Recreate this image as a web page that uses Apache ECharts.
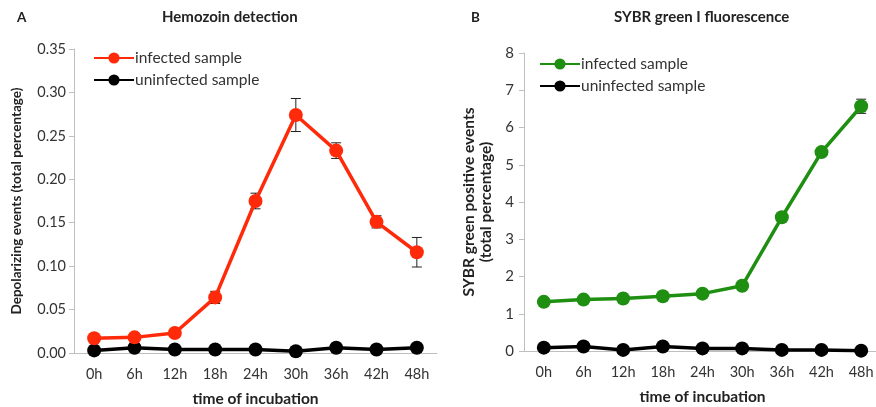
<!DOCTYPE html>
<html>
<head>
<meta charset="utf-8">
<script src="https://cdn.jsdelivr.net/npm/echarts@6/dist/echarts.min.js"></script>
<style>
  html, body { margin: 0; padding: 0; background: #fff; }
  #chart { width: 876px; height: 407px; }
</style>
</head>
<body>
<div id="chart"></div>
<script>
// categories: time points
var hours = ['0h', '6h', '12h', '18h', '24h', '30h', '36h', '42h', '48h'];

// panel A - hemozoin detection
var hemoInfected = [0.017, 0.018, 0.023, 0.064, 0.175, 0.274, 0.233, 0.151, 0.116];
var hemoInfectedErr = [0.002, 0.002, 0.002, 0.007, 0.009, 0.019, 0.009, 0.007, 0.017];
var hemoUninfected = [0.003, 0.006, 0.004, 0.004, 0.004, 0.002, 0.006, 0.004, 0.006];

// panel B - SYBR green I
var sybrInfected = [1.32, 1.38, 1.41, 1.47, 1.54, 1.75, 3.59, 5.34, 6.57];
var sybrInfectedErr = [0.03, 0.03, 0.03, 0.03, 0.03, 0.04, 0.06, 0.08, 0.19];
var sybrUninfected = [0.09, 0.12, 0.03, 0.12, 0.07, 0.07, 0.03, 0.03, 0.01];

var font = 'Lato';
var axisGray = '#bfbfbf';

// error bars drawn with the axes' own coordinate system
function errorSeries(idx, values, errs) {
  return {
    type: 'custom',
    xAxisIndex: idx,
    yAxisIndex: idx,
    z: 1,
    data: values.map(function (v, i) { return [i, v - errs[i], v + errs[i]]; }),
    renderItem: function (params, api) {
      var lo = api.coord([api.value(0), api.value(1)]);
      var hi = api.coord([api.value(0), api.value(2)]);
      var w = 5;
      var st = { stroke: '#222', lineWidth: 1 };
      return {
        type: 'group',
        children: [
          { type: 'line', shape: { x1: lo[0], y1: lo[1], x2: hi[0], y2: hi[1] }, style: st },
          { type: 'line', shape: { x1: lo[0] - w, y1: lo[1], x2: lo[0] + w, y2: lo[1] }, style: st },
          { type: 'line', shape: { x1: hi[0] - w, y1: hi[1], x2: hi[0] + w, y2: hi[1] }, style: st }
        ]
      };
    }
  };
}

function lineSeries(idx, name, values, color) {
  return {
    name: name,
    type: 'line',
    xAxisIndex: idx,
    yAxisIndex: idx,
    data: values,
    symbol: 'circle',
    symbolSize: 14,
    z: 3,
    itemStyle: { color: color },
    lineStyle: { color: color, width: 3.5 }
  };
}

function xAxisOf(idx) {
  return {
    type: 'category',
    gridIndex: idx,
    data: hours,
    boundaryGap: true,
    name: 'time of incubation',
    nameLocation: 'middle',
    nameGap: 38,
    nameTextStyle: { fontFamily: font, fontWeight: 'bold', fontSize: 15.5, color: '#222' },
    axisLine: { lineStyle: { color: axisGray, width: 1 } },
    axisTick: { length: 5, lineStyle: { color: axisGray } },
    axisLabel: { fontFamily: font, fontSize: 14.5, color: '#333', margin: 14, interval: 0 },
    splitLine: { show: false }
  };
}

var titleStyle = { fontFamily: font, fontSize: 15, fontWeight: 'bold', color: '#222' };

var option = {
  animation: false,
  textStyle: { fontFamily: font },
  title: [
    { text: 'A', left: 12, top: 6, textStyle: { fontFamily: font, fontSize: 13.5, fontWeight: 'bold', color: '#222' } },
    { text: 'Hemozoin detection', left: 157, top: 5, textStyle: titleStyle },
    { text: 'B', left: 466, top: 6, textStyle: { fontFamily: font, fontSize: 13.5, fontWeight: 'bold', color: '#222' } },
    { text: 'SYBR green I fluorescence', left: 609, top: 5, textStyle: titleStyle }
  ],
  legend: [
    {
      orient: 'vertical', left: 88, top: 45, itemGap: 6, itemWidth: 40, itemHeight: 14,
      data: ['A infected sample', 'A uninfected sample'],
      formatter: function (n) { return n.slice(2); },
      textStyle: { fontFamily: font, fontSize: 15.5, color: '#333', padding: [0, 0, 0, -4] }
    },
    {
      orient: 'vertical', left: 534, top: 51, itemGap: 6, itemWidth: 40, itemHeight: 14,
      data: ['B infected sample', 'B uninfected sample'],
      formatter: function (n) { return n.slice(2); },
      textStyle: { fontFamily: font, fontSize: 15.5, color: '#333', padding: [0, 0, 0, -4] }
    }
  ],
  grid: [
    { left: 74, top: 49, width: 363, height: 304, outerBoundsMode: 'none', containLabel: false },
    { left: 524, top: 53, width: 357, height: 298, outerBoundsMode: 'none', containLabel: false }
  ],
  xAxis: [xAxisOf(0), xAxisOf(1)],
  yAxis: [
    {
      type: 'value', gridIndex: 0, min: 0, max: 0.35, interval: 0.05,
      name: 'Depolarizing events (total percentage)',
      nameLocation: 'middle', nameGap: 50,
      nameTextStyle: { fontFamily: font, fontWeight: 'bold', fontSize: 13.5, color: '#222' },
      axisLine: { show: true, lineStyle: { color: axisGray } },
      axisTick: { show: true, length: 5, lineStyle: { color: axisGray } },
      axisLabel: { fontFamily: font, fontSize: 14.5, color: '#333', margin: 8, formatter: function (v) { return v.toFixed(2); } },
      splitLine: { show: false }
    },
    {
      type: 'value', gridIndex: 1, min: 0, max: 8, interval: 1,
      name: 'SYBR green positive events\n(total percentage)',
      nameLocation: 'middle', nameGap: 30,
      nameTextStyle: { fontFamily: font, fontWeight: 'bold', fontSize: 15.5, color: '#222', lineHeight: 17 },
      axisLine: { show: true, lineStyle: { color: axisGray } },
      axisTick: { show: true, length: 5, lineStyle: { color: axisGray } },
      axisLabel: { fontFamily: font, fontSize: 15, color: '#333', margin: 10 },
      splitLine: { show: false }
    }
  ],
  series: [
    errorSeries(0, hemoInfected, hemoInfectedErr),
    lineSeries(0, 'A uninfected sample', hemoUninfected, '#000000'),
    lineSeries(0, 'A infected sample', hemoInfected, '#ff2a0a'),
    errorSeries(1, sybrInfected, sybrInfectedErr),
    lineSeries(1, 'B uninfected sample', sybrUninfected, '#000000'),
    lineSeries(1, 'B infected sample', sybrInfected, '#1f8f12')
  ]
};

var chart = echarts.init(document.getElementById('chart'));
chart.setOption(option);
</script>
</body>
</html>
